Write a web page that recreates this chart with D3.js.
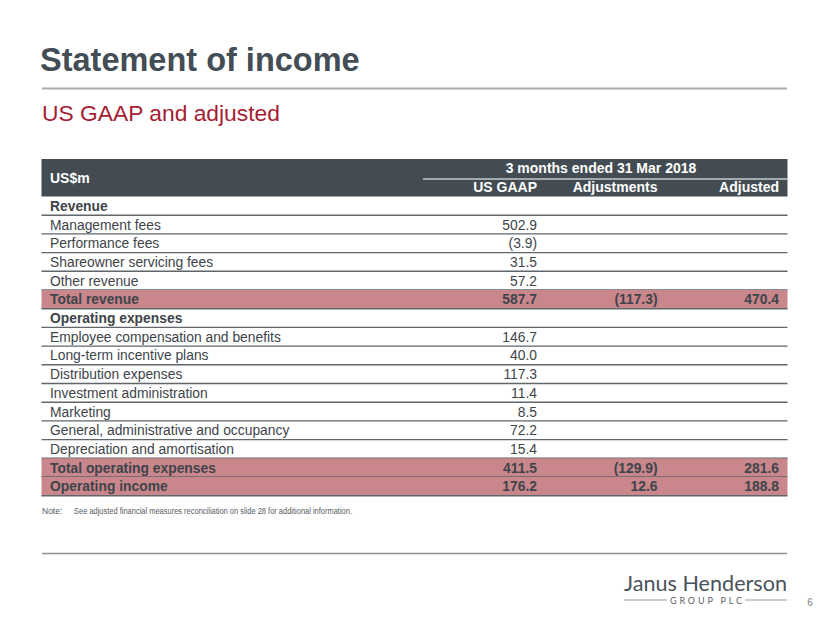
<!DOCTYPE html>
<html>
<head>
<meta charset="utf-8">
<script src="https://cdn.jsdelivr.net/npm/d3@7/dist/d3.min.js"></script>
<style>
  html, body { margin: 0; padding: 0; background: #ffffff; }
  svg { display: block; font-family: "Liberation Sans", Arial, sans-serif; }
</style>
</head>
<body>
<svg id="chart" width="830" height="623"></svg>
<script>
// ---- Data ----
const title = "Statement of income";
const subtitle = "US GAAP and adjusted";
const periodLabel = "3 months ended 31 Mar 2018";
const unitLabel = "US$m";
const columns = ["US GAAP", "Adjustments", "Adjusted"];
const rowLabels = [
  "Revenue",
  "Management fees",
  "Performance fees",
  "Shareowner servicing fees",
  "Other revenue",
  "Total revenue",
  "Operating expenses",
  "Employee compensation and benefits",
  "Long-term incentive plans",
  "Distribution expenses",
  "Investment administration",
  "Marketing",
  "General, administrative and occupancy",
  "Depreciation and amortisation",
  "Total operating expenses",
  "Operating income"
];
const usGaap      = [null, 502.9, -3.9, 31.5, 57.2, 587.7, null, 146.7, 40.0, 117.3, 11.4, 8.5, 72.2, 15.4, 411.5, 176.2];
const adjustments = [null, null, null, null, null, -117.3, null, null, null, null, null, null, null, null, -129.9, 12.6];
const adjusted    = [null, null, null, null, null, 470.4, null, null, null, null, null, null, null, null, 281.6, 188.8];
const headingRows = ["Revenue", "Operating expenses"];
const totalRows   = ["Total revenue", "Total operating expenses", "Operating income"];
const noteLabel = "Note:";
const noteText = "See adjusted financial measures reconciliation on slide 28 for additional information.";
const pageNumber = "6";

// ---- Drawing ----
const svg = d3.select("#chart");
const fmt = v => v == null ? "" : (v < 0 ? "(" + d3.format(".1f")(-v) + ")" : d3.format(".1f")(v));

const darkText = "#3e444a";
const headerFill = "#434c53";
const pinkFill = "#c9878c";
const ruleColor = "#5f666c";

// Title
svg.append("text").attr("x", 40).attr("y", 71)
  .attr("font-size", 32.5).attr("font-weight", "bold").attr("fill", "#434d55")
  .text(title);
svg.append("line").attr("x1", 42).attr("x2", 787).attr("y1", 88.5).attr("y2", 88.5)
  .attr("stroke", "#a7abaf").attr("stroke-width", 2);
svg.append("text").attr("x", 42).attr("y", 120.5)
  .attr("font-size", 22.8).attr("fill", "#a51d33")
  .text(subtitle);

// Table geometry
const tableLeft = 41.5, tableRight = 787.5;
const headerTop = 159, headerBottom = 196.5;
const y = d3.scaleBand().domain(d3.range(rowLabels.length))
  .range([headerBottom, 495.7]).padding(0);
const colX = d3.scaleOrdinal().domain(columns).range([537, 657.5, 779]);
const seriesByCol = { "US GAAP": usGaap, "Adjustments": adjustments, "Adjusted": adjusted };

// Header band
svg.append("rect").attr("x", tableLeft).attr("y", headerTop)
  .attr("width", tableRight - tableLeft).attr("height", headerBottom - headerTop)
  .attr("fill", headerFill);
svg.append("text").attr("x", 50).attr("y", 183)
  .attr("font-size", 14).attr("font-weight", "bold").attr("fill", "#ffffff")
  .text(unitLabel);
svg.append("text").attr("x", 601).attr("y", 173)
  .attr("text-anchor", "middle")
  .attr("font-size", 14).attr("font-weight", "bold").attr("fill", "#ffffff")
  .text(periodLabel);
svg.append("line").attr("x1", 423).attr("x2", tableRight).attr("y1", 179).attr("y2", 179)
  .attr("stroke", "#c5c9cc").attr("stroke-width", 1.5);
svg.selectAll("text.colhead").data(columns).enter().append("text")
  .attr("class", "colhead")
  .attr("x", d => colX(d)).attr("y", 192)
  .attr("text-anchor", "end")
  .attr("font-size", 14).attr("font-weight", "bold").attr("fill", "#ffffff")
  .text(d => d);

// Rows
const rows = svg.selectAll("g.row").data(rowLabels).enter().append("g")
  .attr("class", "row")
  .attr("transform", (d, i) => `translate(0,${y(i)})`);

rows.filter(d => totalRows.includes(d)).append("rect")
  .attr("x", tableLeft).attr("y", 0)
  .attr("width", tableRight - tableLeft).attr("height", y.bandwidth())
  .attr("fill", pinkFill);

rows.append("line")
  .attr("x1", tableLeft).attr("x2", tableRight)
  .attr("y1", y.bandwidth()).attr("y2", y.bandwidth())
  .attr("stroke", ruleColor).attr("stroke-width", 1.4);

rows.append("text")
  .attr("x", 50).attr("y", y.bandwidth() / 2 + 5)
  .attr("font-size", 13.85)
  .attr("font-weight", d => (totalRows.includes(d) || headingRows.includes(d)) ? "bold" : "normal")
  .attr("fill", darkText)
  .text(d => d);

columns.forEach(col => {
  rows.append("text")
    .attr("x", colX(col)).attr("y", y.bandwidth() / 2 + 5)
    .attr("text-anchor", "end")
    .attr("font-size", 13.85)
    .attr("font-weight", d => totalRows.includes(d) ? "bold" : "normal")
    .attr("fill", darkText)
    .text((d, i) => fmt(seriesByCol[col][i]));
});

// Note
svg.append("text").attr("x", 42).attr("y", 514)
  .attr("font-size", 8.5).attr("fill", "#555b61").text(noteLabel);
svg.append("text").attr("x", 74).attr("y", 514)
  .attr("font-size", 8.5).attr("fill", "#555b61")
  .attr("textLength", 278).attr("lengthAdjust", "spacingAndGlyphs")
  .text(noteText);

// Footer rule
svg.append("line").attr("x1", 42).attr("x2", 787).attr("y1", 553.5).attr("y2", 553.5)
  .attr("stroke", "#8d9297").attr("stroke-width", 1.5);

// Logo
svg.append("text").attr("x", 624).attr("y", 591)
  .attr("font-family", "Lato, 'Open Sans', sans-serif")
  .attr("font-size", 22).attr("fill", "#49525a")
  .attr("textLength", 163).attr("lengthAdjust", "spacingAndGlyphs")
  .text("Janus Henderson");
svg.append("text").attr("x", 670).attr("y", 603.5)
  .attr("font-family", "Lato, 'Open Sans', sans-serif")
  .attr("font-size", 9).attr("fill", "#5a6269")
  .attr("textLength", 72).attr("lengthAdjust", "spacing")
  .text("GROUP PLC");
svg.append("line").attr("x1", 624).attr("x2", 667).attr("y1", 600).attr("y2", 600)
  .attr("stroke", "#7d848a").attr("stroke-width", 0.8);
svg.append("line").attr("x1", 745).attr("x2", 787).attr("y1", 600).attr("y2", 600)
  .attr("stroke", "#7d848a").attr("stroke-width", 0.8);

svg.append("text").attr("x", 810).attr("y", 606)
  .attr("text-anchor", "middle")
  .attr("font-size", 10).attr("fill", "#7a7f84").text(pageNumber);
</script>
</body>
</html>
